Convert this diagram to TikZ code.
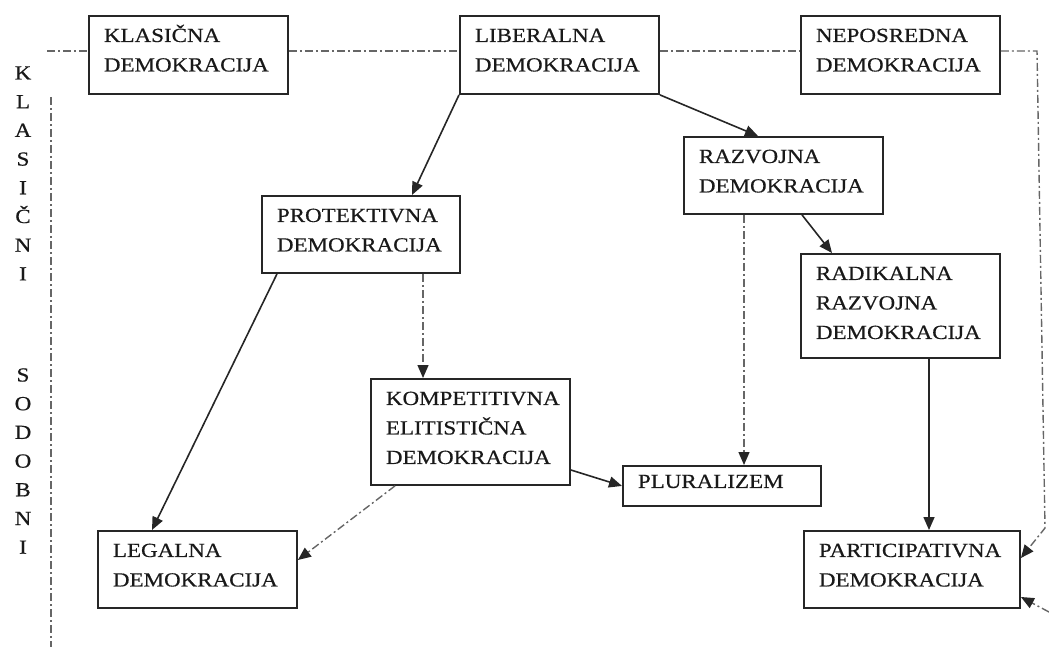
\documentclass[tikz,border=0pt]{standalone}
\usepackage{fontspec}
\setmainfont{Liberation Serif}[FakeStretch=1.15,FakeBold=0.6]
\usetikzlibrary{arrows.meta,calc}
\begin{document}
\begin{tikzpicture}[x=1pt,y=-1pt,
  box/.style={draw, line width=1.9pt, draw=black!85, anchor=north west, inner xsep=15pt, inner ysep=0pt,
    align=left, text height=26pt, font=\fontsize{20}{29.5}\selectfont, text=black!90},
  vletters/.style={text width=20pt, align=center, anchor=north, inner sep=0pt,
    text height=13.3pt, font=\fontsize{20}{28.7}\selectfont, text=black!90},
  conn/.style={line width=1.6pt, draw=black!85, -{Triangle[length=13pt,width=11pt]}},
  dd/.style={line width=1.4pt, draw=black!60, dash pattern=on 8pt off 3pt on 2pt off 3pt},
  dda/.style={dd, -{Triangle[length=13pt,width=11pt,color=black!85,fill=black!85]}}
]
\useasboundingbox (0,0) rectangle (1049,647);

% boxes
\node[box, text width=169pt, text depth=52pt] (kl)   at (88,15)  {KLASIČNA\\DEMOKRACIJA};
\node[box, text width=169pt, text depth=52pt] (lib)  at (459,15) {LIBERALNA\\DEMOKRACIJA};
\node[box, text width=169pt, text depth=52pt] (nep)  at (800,15) {NEPOSREDNA\\DEMOKRACIJA};
\node[box, text width=169pt, text depth=51pt] (raz)  at (683,136) {RAZVOJNA\\DEMOKRACIJA};
\node[box, text width=168pt, text depth=51pt] (prot) at (261,195) {PROTEKTIVNA\\DEMOKRACIJA};
\node[box, text width=169pt, text depth=78pt] (rad)  at (800,253) {RADIKALNA\\RAZVOJNA\\DEMOKRACIJA};
\node[box, text width=169pt, text depth=80pt] (komp) at (370,378) {KOMPETITIVNA\\ELITISTIČNA\\DEMOKRACIJA};
\node[box, text width=168pt, text height=22pt, text depth=18pt] (plur) at (622,465) {PLURALIZEM};
\node[box, text width=169pt, text depth=51pt] (leg)  at (97,530) {LEGALNA\\DEMOKRACIJA};
\node[box, text width=186pt, text depth=51pt] (part) at (803,530) {PARTICIPATIVNA\\DEMOKRACIJA};

% vertical labels
\node[vletters] (klas) at (23,66)  {K\\L\\A\\S\\I\\Č\\N\\I};
\node[vletters] (sod)  at (23,368) {S\\O\\D\\O\\B\\N\\I};

% dash-dot frame
\coordinate (tl) at (47,51);
\coordinate (lvt) at (51,97);
\coordinate (lvb) at (51,647);
\coordinate (tr) at (1037,51);
\coordinate (rb) at (1045,528);
\coordinate (br) at (1049,612);
\draw[dd] (tl) -- ([yshift=-36pt]kl.north west);
\draw[dd] ([yshift=-36pt]kl.north east) -- ([yshift=-36pt]lib.north west);
\draw[dd] ([yshift=-36pt]lib.north east) -- ([yshift=-36pt]nep.north west);
\draw[dd] (lvt) -- (lvb);
\draw[dda] ([yshift=-36pt]nep.north east) -- (tr) -- (rb) -- ([yshift=-28pt]part.north east);
\draw[dda] (br) -- ([yshift=-67pt]part.north east);

% solid connectors
\draw[conn] (lib.south west) -- ([xshift=151pt]prot.north west);
\draw[conn] (lib.south east) -- ([xshift=75pt]raz.north west);
\draw[conn] ([xshift=119pt]raz.south west) -- ([xshift=32pt]rad.north west);
\draw[conn] ([xshift=16pt]prot.south west) -- ([xshift=55pt]leg.north west);
\draw[conn] ([yshift=-92pt]komp.north east) -- (plur.west);
\coordinate (radb) at ([xshift=129pt]rad.south west);
\draw[conn] (radb) -- (radb |- part.north);

% dash-dot connectors
\coordinate (razb) at ([xshift=61pt]raz.south west);
\draw[dda] (razb) -- (razb |- plur.north);
\coordinate (protb) at ([xshift=162pt]prot.south west);
\draw[dda] (protb) -- (protb |- komp.north);
\draw[dda] ([xshift=25pt]komp.south west) -- ([yshift=-30pt]leg.north east);
\end{tikzpicture}
\end{document}
